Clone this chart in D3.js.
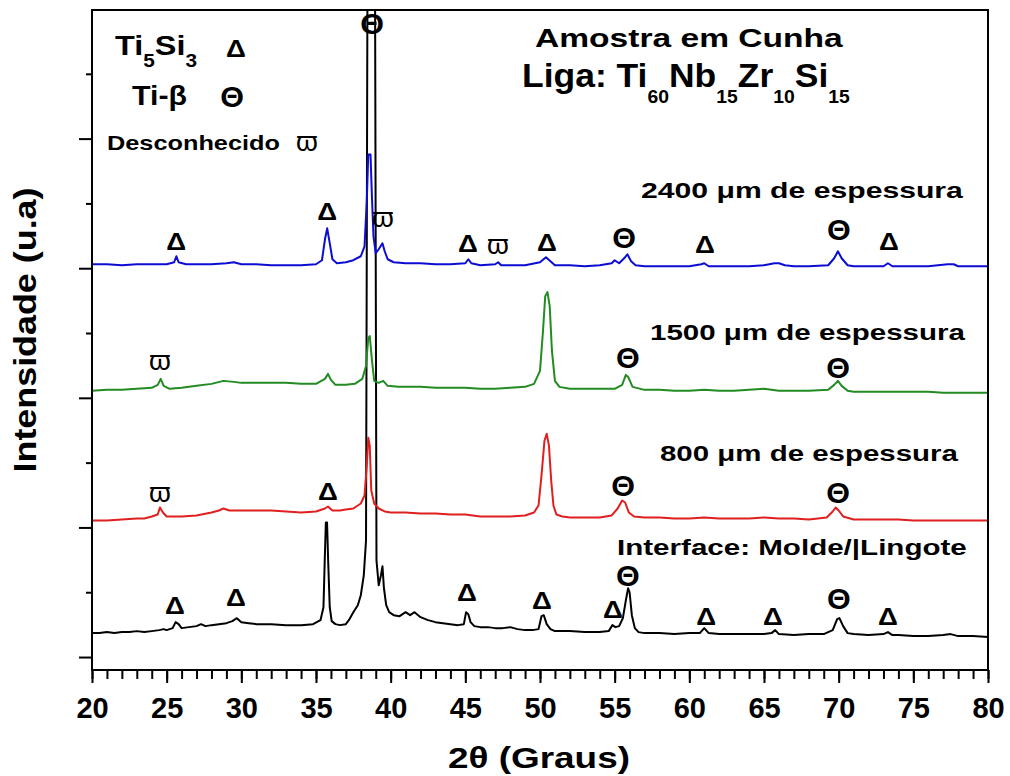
<!DOCTYPE html>
<html>
<head>
<meta charset="utf-8">
<script src="https://cdn.jsdelivr.net/npm/d3@7/dist/d3.min.js"></script>
<style>
body { margin: 0; background: #fff; }
text { font-family: "Liberation Sans", Arial, sans-serif; fill: #000; }
</style>
</head>
<body>
<script>
// 2theta (graus) and intensity (u.a.), one array per trace
var interfaceData = [[20,24],[20.5,24],[21,25],[21.5,24],[22,25],[22.5,25],[23,26],[23.5,25],[24,26],[24.5,27],[24.8,28],[25,27],[25.4,29],[25.6,35],[25.8,33],[26,29],[26.5,30],[27,31],[27.3,33],[27.6,31],[28,32],[28.5,33],[29,34],[29.4,36],[29.7,39],[30,35],[30.5,34],[31,33],[31.5,33],[32,33],[33,32],[34,32],[34.8,33],[35.3,37],[35.5,50],[35.58,94],[35.66,135],[35.74,135],[35.82,94],[35.92,50],[36.05,36],[36.3,33],[36.6,32],[37,33],[37.2,37],[37.5,45],[37.8,52],[38,62],[38.2,82],[38.35,117],[38.45,700],[38.95,700],[39.05,97],[39.2,72],[39.35,82],[39.45,91],[39.55,69],[39.7,52],[39.9,45],[40.2,42],[40.6,41],[41,45],[41.3,42],[41.6,45],[42,40],[42.5,37],[43,35],[43.5,34],[44,33],[44.5,32],[44.9,33],[45.05,45],[45.2,43],[45.35,35],[45.6,31],[46,30],[46.5,30],[47,29],[47.5,29],[48,30],[48.5,28],[49,27],[49.5,27],[49.9,28],[50.1,41],[50.25,42],[50.45,33],[50.7,28],[51,26],[52,26],[53,25],[54,25],[54.6,26],[54.85,32],[55.05,30],[55.3,31],[55.55,39],[55.75,57],[55.9,69],[56,65],[56.15,42],[56.35,29],[56.6,25],[57,24],[58,24],[59,23],[60,24],[60.7,24],[61,29],[61.3,24],[62,23],[63,23],[64,23],[65,23],[65.5,24],[65.75,27],[66,23],[67,22],[68,23],[69,23],[69.6,27],[69.9,38],[70.05,39],[70.3,31],[70.6,24],[71,23],[72,22],[73,23],[73.3,25],[73.6,22],[74,22],[75,21],[76,21],[77,22],[77.5,23],[78,21],[79,21],[80,20]];

var data800 = [[20,137],[21,137],[22,138],[23,139],[23.5,139],[24,141],[24.4,143],[24.55,150],[24.75,145],[25,141],[26,141],[27,142],[28,145],[28.5,147],[28.8,149],[29.2,147],[30,147],[31,147],[32,147],[33,146],[34,145],[35,146],[35.6,149],[35.8,151],[36.1,147],[36.6,147],[37,148],[37.5,149],[38,154],[38.25,162],[38.4,192],[38.5,220],[38.6,212],[38.7,167],[38.9,154],[39.2,149],[39.6,146],[40,145],[41,145],[42,144],[43,144],[44,143],[45,143],[46,141],[47,141],[48,141],[49,142],[49.6,145],[49.9,152],[50.1,182],[50.3,217],[50.45,224],[50.6,212],[50.75,177],[50.9,152],[51.1,143],[51.5,141],[52,140],[53,140],[54,140],[54.8,142],[55.2,149],[55.5,157],[55.7,155],[55.95,145],[56.3,141],[57,140],[58,140],[59,139],[60,139],[61,140],[62,139],[63,139],[64,139],[65,140],[66,139],[67,139],[68,138],[69.2,140],[69.6,146],[69.8,150],[70,147],[70.3,141],[71,138],[72,138],[73,138],[74,138],[75,137],[76,137],[77,137],[78,137],[79,137],[80,137]];

var data1500 = [[20,267],[21,268],[22,268],[23,269],[24,270],[24.4,273],[24.6,279],[24.8,272],[25.2,269],[26,270],[27,272],[28,274],[28.8,277],[29.5,276],[30,275],[31,275],[32,275],[33,275],[34,274],[35,274],[35.6,279],[35.8,284],[36,278],[36.3,273],[37,273],[37.6,274],[38.1,279],[38.35,292],[38.5,320],[38.6,322],[38.75,297],[38.9,277],[39.2,275],[39.5,277],[39.8,272],[40.5,271],[41,271],[42,271],[43,270],[44,270],[45,270],[46,269],[47,269],[48,270],[49,271],[49.6,274],[50,287],[50.2,327],[50.35,362],[50.5,366],[50.65,352],[50.8,307],[51,277],[51.3,271],[52,269],[53,269],[54,269],[55,269],[55.5,273],[55.75,283],[55.9,281],[56.2,271],[57,268],[58,268],[59,267],[60,267],[61,268],[62,267],[63,267],[64,268],[65,269],[66,267],[67,267],[68,267],[69.3,268],[69.7,273],[69.95,277],[70.2,272],[70.6,267],[71,266],[72,266],[73,266],[74,266],[75,266],[76,266],[77,265],[78,265],[79,265],[80,265]];

var data2400 = [[20,394],[21,394],[22,393],[23,394],[24,394],[25,394],[25.5,396],[25.65,402],[25.8,396],[26.3,394],[27,394],[28,394],[29,395],[29.5,396],[30,394],[31,394],[32,393],[33,393],[34,393],[35,394],[35.4,398],[35.6,419],[35.75,430],[35.9,417],[36.1,399],[36.4,395],[37,396],[37.5,398],[38,402],[38.25,412],[38.4,457],[38.5,504],[38.65,504],[38.75,460],[38.85,422],[39,405],[39.2,409],[39.45,415],[39.6,407],[39.8,399],[40.2,396],[41,395],[42,395],[43,394],[44,394],[45,395],[45.2,399],[45.4,395],[46,393],[47,394],[47.2,396],[47.4,393],[48,393],[49,393],[50,396],[50.4,401],[50.7,397],[51,393],[52,393],[53,392],[54,393],[54.8,395],[55,398],[55.3,395],[55.7,401],[55.85,404],[56.1,397],[56.4,393],[57,392],[58,392],[59,392],[60,392],[60.8,394],[61,395],[61.3,392],[62,392],[63,392],[64,392],[65,393],[65.7,395],[66,395],[66.4,393],[67,392],[68,392],[69.3,393],[69.7,400],[69.95,407],[70.2,400],[70.6,393],[71,392],[72,392],[73,392],[73.3,395],[73.6,392],[74,392],[75,392],[76,392],[77.3,394],[77.7,394],[78,392],[79,392],[80,392]];

// phase marks: [2theta, height, symbol]
var marks2400 = [[25.63,416,"Δ"],[35.74,446,"Δ"],[39.49,439,"ϖ"],[45.18,414,"Δ"],[47.19,412,"ϖ"],[50.47,415,"Δ"],[55.63,421,"Θ"],[61.05,413,"Δ"],[70.02,429,"Θ"],[73.37,416,"Δ"]];
var marks1500 = [[24.55,296,"ϖ"],[55.89,300,"Θ"],[69.96,290,"Θ"]];
var marks800 = [[24.55,164,"ϖ"],[35.8,166,"Δ"],[55.56,172,"Θ"],[69.96,165,"Θ"]];
var marksInterface = [[25.56,51,"Δ"],[29.64,59,"Δ"],[38.75,635,"Θ"],[45.11,64,"Δ"],[50.13,56,"Δ"],[54.89,47,"Δ"],[55.89,82,"Θ"],[61.12,40,"Δ"],[65.6,40,"Δ"],[70.02,59,"Θ"],[73.3,40,"Δ"]];

var xMajor = d3.range(20, 81, 5);
var xMinor = d3.range(20, 81, 1);
var yMajor = [0, 130, 260, 390, 520];
var yMinor = [65, 195, 325, 455, 585];

var svg = d3.select("body").append("svg")
	.attr("width", 1010)
	.attr("height", 776);

var x = d3.scaleLinear().domain([20, 80]).range([92, 988]);
var y = d3.scaleLinear().domain([-13, 649]).range([670, 10]);

svg.append("clipPath").attr("id", "plot")
	.append("rect").attr("x", 92).attr("y", 10).attr("width", 896).attr("height", 660);

var line = d3.line()
	.x(function (d) { return x(d[0]); })
	.y(function (d) { return y(d[1]); });

var traces = [
	{ data: interfaceData, color: "#000000" },
	{ data: data800, color: "#e01f1f" },
	{ data: data1500, color: "#228b22" },
	{ data: data2400, color: "#0c0cd2" }
];

svg.append("g").attr("clip-path", "url(#plot)")
	.selectAll("path")
	.data(traces)
	.enter()
	.append("path")
	.attr("d", function (d) { return line(d.data); })
	.attr("fill", "none")
	.attr("stroke", function (d) { return d.color; })
	.attr("stroke-width", 2)
	.attr("stroke-linejoin", "round");

// axes
function styleAxis(g) {
	g.select(".domain").remove();
	g.selectAll("line").attr("stroke", "#000").attr("stroke-width", 2);
}

svg.append("g").attr("transform", "translate(0,670)")
	.call(d3.axisBottom(x).tickValues(xMinor).tickSize(9).tickFormat(""))
	.call(styleAxis);

svg.append("g").attr("transform", "translate(0,670)")
	.call(d3.axisBottom(x).tickValues(xMajor).tickSize(13).tickPadding(14).tickFormat(d3.format("d")))
	.call(styleAxis)
	.selectAll("text")
	.attr("font-size", 29)
	.attr("font-weight", "bold")
	.attr("font-family", "Liberation Sans, Arial, sans-serif");

svg.append("g").attr("transform", "translate(92,0)")
	.call(d3.axisLeft(y).tickValues(yMajor).tickSize(13).tickFormat(""))
	.call(styleAxis);

svg.append("g").attr("transform", "translate(92,0)")
	.call(d3.axisLeft(y).tickValues(yMinor).tickSize(6).tickFormat(""))
	.call(styleAxis);

svg.append("rect")
	.attr("x", 92).attr("y", 10).attr("width", 896).attr("height", 660)
	.attr("fill", "none").attr("stroke", "#000").attr("stroke-width", 2);

// phase symbols
var symbolStyle = {
	"Δ": { size: 23, weight: "bold", family: "Liberation Sans", dy: 8, sx: 1.2 },
	"Θ": { size: 29, weight: "bold", family: "Liberation Sans", dy: 10.4, sx: 1.05 },
	"ϖ": { size: 28, weight: "normal", family: "DejaVu Serif", dy: 8, sx: 1 }
};

function symbol(s, cx, cy) {
	var st = symbolStyle[s];
	svg.append("g")
		.attr("transform", "translate(" + cx + "," + cy + ") scale(" + st.sx + ",1)")
		.append("text")
		.attr("text-anchor", "middle")
		.attr("y", st.dy)
		.attr("font-size", st.size)
		.attr("font-weight", st.weight)
		.attr("font-family", st.family)
		.text(s);
}

[marks2400, marks1500, marks800, marksInterface].forEach(function (list) {
	list.forEach(function (m) { symbol(m[2], x(m[0]), y(m[1])); });
});

// texts, stretched to the width they take in the picture
function fitLabel(parts, x0, baseY, width, size, weight) {
	var g = svg.append("g").attr("transform", "translate(" + x0 + "," + baseY + ")");
	var t = g.append("text")
		.attr("font-size", size)
		.attr("font-weight", weight || "bold")
		.style("white-space", "pre");
	var level = 0;
	parts.forEach(function (p) {
		var drop = p[2] || 0;
		t.append("tspan")
			.attr("dy", drop - level)
			.attr("font-size", p[1] || size)
			.text(p[0]);
		level = drop;
	});
	var w = t.node().getComputedTextLength();
	t.attr("transform", "scale(" + (width / w) + ",1)");
}

fitLabel([["Amostra em Cunha"]], 535, 47, 308, 26);
fitLabel([["Liga: Ti"], ["60", 18, 16], ["Nb"], ["15", 18, 16], ["Zr"], ["10", 18, 16], ["Si"], ["15", 18, 16]], 522, 87, 328, 33);

fitLabel([["Ti"], ["5", 18, 12], ["Si"], ["3", 18, 12]], 115, 55, 82, 28);
fitLabel([["Ti-β"]], 132, 105, 55, 28);
fitLabel([["Desconhecido"]], 107, 150, 173, 21);
symbol("Δ", 236, 49);
symbol("Θ", 232, 97);
symbol("ϖ", 307, 143);

fitLabel([["2400 μm de espessura"]], 641, 198, 322, 22);
fitLabel([["1500 μm de espessura"]], 650, 340, 315, 22);
fitLabel([["800 μm de espessura"]], 660, 461, 298, 22);
fitLabel([["Interface: Molde/|Lingote"]], 617, 555, 350, 22);

fitLabel([["2θ (Graus)"]], 448, 768, 182, 30);

svg.append("text")
	.attr("transform", "translate(36,330) rotate(-90)")
	.attr("text-anchor", "middle")
	.attr("font-size", 31)
	.attr("font-weight", "bold")
	.attr("textLength", 285)
	.attr("lengthAdjust", "spacingAndGlyphs")
	.text("Intensidade (u.a)");
</script>
</body>
</html>
